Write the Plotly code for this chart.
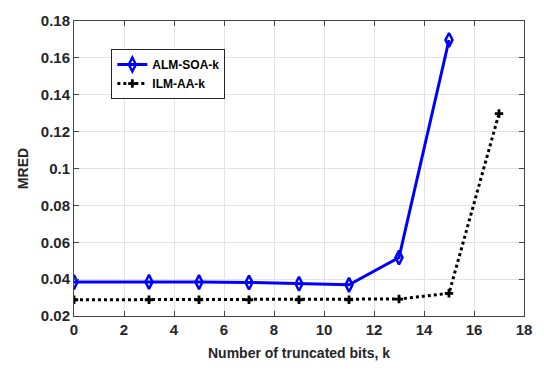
import plotly.graph_objects as go

k_alm = [0, 3, 5, 7, 9, 11, 13, 15]
mred_alm = [0.0384, 0.0385, 0.0384, 0.0382, 0.0375, 0.0369, 0.0517, 0.1697]
k_ilm = [0, 3, 5, 7, 9, 11, 13, 15, 17]
mred_ilm = [0.0288, 0.0288, 0.0288, 0.0288, 0.0288, 0.0288, 0.0292, 0.0323, 0.1298]

x_ticks = [0, 2, 4, 6, 8, 10, 12, 14, 16, 18]
y_ticks = [0.02, 0.04, 0.06, 0.08, 0.1, 0.12, 0.14, 0.16, 0.18]
y_labels = ["0.02", "0.04", "0.06", "0.08", "0.1", "0.12", "0.14", "0.16", "0.18"]

fig = go.Figure()
fig.add_trace(go.Scatter(
    x=k_alm, y=mred_alm, name="ALM-SOA-k", mode="lines+markers",
    line=dict(color="#0000ff", width=3),
    marker=dict(symbol="diamond-tall-open", size=10, color="#0000ff", line=dict(width=2.5)),
))
fig.add_trace(go.Scatter(
    x=k_ilm, y=mred_ilm, name="ILM-AA-k", mode="lines+markers",
    line=dict(color="#000000", width=3, dash="dot"),
    marker=dict(symbol="cross", size=7, color="#000000", line=dict(width=0)),
))

axis_common = dict(
    showline=True, linecolor="#444444", linewidth=1, mirror="ticks",
    ticks="inside", ticklen=5, tickcolor="#444444",
    showgrid=True, gridcolor="#e3e3e3", gridwidth=1, zeroline=False,
    tickfont=dict(family="Liberation Sans", size=15, color="#262626", weight="bold"),
)

fig.update_layout(
    width=544, height=371,
    margin=dict(l=74, r=14, t=17, b=54),
    paper_bgcolor="white", plot_bgcolor="white",
    font=dict(family="Liberation Sans", color="#262626"),
    xaxis=dict(range=[0, 18], tickvals=x_ticks,
               title=dict(text="<b>Number of truncated bits, k</b>", font=dict(size=14, color="#262626"), standoff=11),
               **axis_common),
    yaxis=dict(range=[0.02, 0.18], tickvals=y_ticks, ticktext=y_labels,
               title=dict(text="<b>MRED</b>", font=dict(size=14, color="#262626"), standoff=8),
               **axis_common),
    legend=dict(x=0.083, y=0.905, xanchor="left", yanchor="top",
                bgcolor="white", bordercolor="#262626", borderwidth=1,
                font=dict(size=12, color="#000000", weight="bold"),
                tracegroupgap=0, itemwidth=30),
    showlegend=True,
)

fig.write_html("out.html", config={"displayModeBar": False},
               post_script="document.body.style.margin='0';")
